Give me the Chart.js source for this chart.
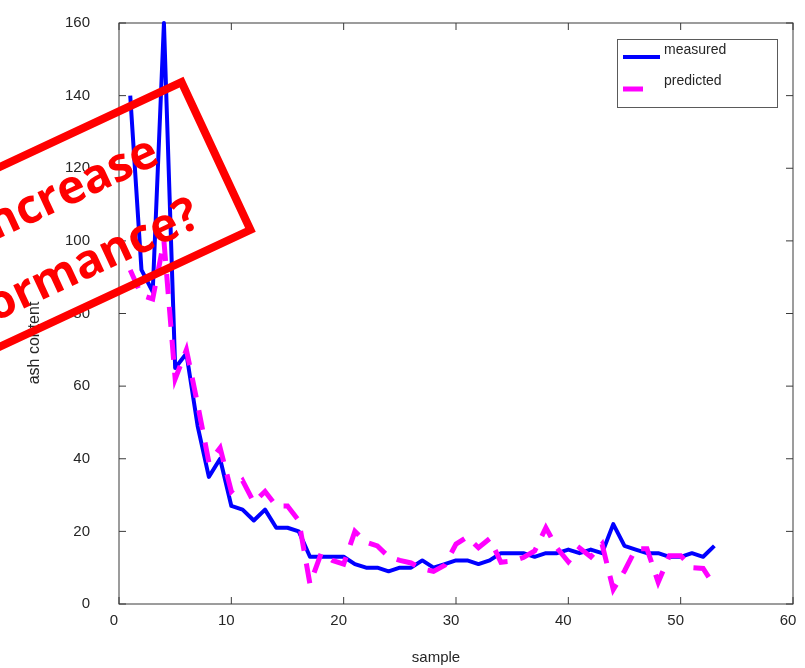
<!DOCTYPE html>
<html>
<head>
<meta charset="utf-8">
<title>ash content</title>
<script src="https://cdn.jsdelivr.net/npm/chart.js@4.4.1/dist/chart.umd.min.js"></script>
<style>
  html, body { margin: 0; padding: 0; background: #fff; }
  #wrap { width: 805px; height: 668px; }
</style>
</head>
<body>
<div id="wrap"><canvas id="ashChart" width="805" height="668"></canvas></div>
<script>
// sample numbers and ash content series
const samples = [];
for (let i = 1; i <= 53; i++) samples.push(i);

const measured = [140, 92, 86, 160, 65, 69, 49, 35, 40, 27,
                  26, 23, 26, 21, 21, 20, 13, 13, 13, 13,
                  11, 10, 10, 9, 10, 10, 12, 10, 11, 12,
                  12, 11, 12, 14, 14, 14, 13, 14, 14, 15,
                  14, 15, 14, 22, 16, 15, 14, 14, 13, 13,
                  14, 13, 16];

const predicted = [92, 85, 84, 100, 62, 70, 55, 39, 43, 31,
                   34, 28, 31, 27, 27, 23, 5.5, 14, 12, 11,
                   20, 17, 16, 13, 12, 11.3, 9.6, 9, 10.7, 16.5,
                   18.5, 15.5, 18, 11.5, 11.8, 12.8, 14.6, 21, 15.4, 11.6,
                   15.4, 13, 16.5, 4, 9.1, 15.2, 15.2, 6, 13.3, 13.3,
                   10, 9.8, 5];

const xTicks = [0, 10, 20, 30, 40, 50, 60];
const yTicks = [0, 20, 40, 60, 80, 100, 120, 140, 160];

const textColor = '#262626';
Chart.defaults.font.family = '"Liberation Sans", Arial, sans-serif';
Chart.defaults.color = textColor;

// boxed axes with inward ticks on all four sides
const axesBox = {
  id: 'axesBox',
  beforeDatasetsDraw(chart) {
    const { ctx, chartArea: a, scales: { x, y } } = chart;
    const t = 7;
    ctx.save();
    ctx.strokeStyle = '#3a3a3a';
    ctx.lineWidth = 1;
    ctx.strokeRect(a.left, a.top, a.right - a.left, a.bottom - a.top);
    ctx.beginPath();
    xTicks.forEach(v => {
      const px = x.getPixelForValue(v);
      ctx.moveTo(px, a.bottom); ctx.lineTo(px, a.bottom - t);
      ctx.moveTo(px, a.top); ctx.lineTo(px, a.top + t);
    });
    yTicks.forEach(v => {
      const py = y.getPixelForValue(v);
      ctx.moveTo(a.left, py); ctx.lineTo(a.left + t, py);
      ctx.moveTo(a.right, py); ctx.lineTo(a.right - t, py);
    });
    ctx.stroke();
    ctx.restore();
  }
};

// axis titles, legend box and the red stamp on top
const overlay = {
  id: 'overlay',
  afterDraw(chart) {
    const { ctx } = chart;
    ctx.save();

    ctx.fillStyle = textColor;
    ctx.font = '15px "Liberation Sans", Arial, sans-serif';
    ctx.textAlign = 'center';
    ctx.textBaseline = 'middle';
    ctx.fillText('sample', 436, 658);
    ctx.save();
    ctx.translate(35, 343);
    ctx.rotate(-Math.PI / 2);
    ctx.font = '16px "Liberation Sans", Arial, sans-serif';
    ctx.fillText('ash content', 0, 0);
    ctx.restore();

    // legend
    ctx.fillStyle = '#fff';
    ctx.fillRect(617.5, 39.5, 160, 68);
    ctx.strokeStyle = '#5a5a5a';
    ctx.lineWidth = 1;
    ctx.strokeRect(617.5, 39.5, 160, 68);
    ctx.font = '14px "Liberation Sans", Arial, sans-serif';
    ctx.textAlign = 'left';
    chart.data.datasets.forEach((ds, i) => {
      const ly = 57 + 32 * i;
      const len = ds.borderDash ? ds.borderDash[0] : 37;
      ctx.beginPath();
      ctx.strokeStyle = ds.borderColor;
      ctx.lineWidth = ds.borderWidth;
      ctx.moveTo(623, ly);
      ctx.lineTo(623 + len, ly);
      ctx.stroke();
      ctx.fillStyle = textColor;
      ctx.fillText(ds.label, 664, 50 + 31.5 * i);
    });

    // stamp
    ctx.translate(216, 156);
    ctx.rotate(-25 * Math.PI / 180);
    ctx.strokeStyle = '#ff0000';
    ctx.lineWidth = 8;
    ctx.strokeRect(-560, -81.5, 560, 163);
    ctx.fillStyle = '#ff0000';
    ctx.font = 'bold 47px "Open Sans", "Noto Sans", sans-serif';
    ctx.textAlign = 'right';
    ctx.textBaseline = 'alphabetic';
    ctx.fillText('Increase', -52, -17);
    ctx.fillText('performance?', -41, 57);

    ctx.restore();
  }
};

new Chart(document.getElementById('ashChart'), {
  type: 'line',
  data: {
    datasets: [
      {
        label: 'measured',
        data: samples.map((s, i) => ({ x: s, y: measured[i] })),
        borderColor: '#0000ff',
        borderWidth: 4,
        borderJoinStyle: 'round',
        pointRadius: 0,
        tension: 0,
        clip: false,
        order: 1
      },
      {
        label: 'predicted',
        data: samples.map((s, i) => ({ x: s, y: predicted[i] })),
        borderColor: '#ff00ff',
        borderWidth: 5,
        borderDash: [20, 13],
        pointRadius: 0,
        tension: 0,
        clip: false,
        order: 0
      }
    ]
  },
  options: {
    responsive: false,
    animation: false,
    layout: { padding: { top: 23, right: 12, left: 0, bottom: 0 } },
    plugins: { legend: { display: false }, tooltip: { enabled: false } },
    scales: {
      x: {
        type: 'linear',
        min: 0,
        max: 60,
        afterBuildTicks: s => { s.ticks = xTicks.map(v => ({ value: v })); },
        afterFit: s => { s.height = 64; s.paddingLeft = 0; s.paddingRight = 0; },
        grid: { display: false, drawTicks: false },
        border: { display: false },
        ticks: { padding: 8, labelOffset: -5, maxRotation: 0, color: textColor, font: { size: 15 } }
      },
      y: {
        type: 'linear',
        min: 0,
        max: 160,
        afterBuildTicks: s => { s.ticks = yTicks.map(v => ({ value: v })); },
        afterFit: s => { s.width = 119; s.paddingTop = 0; s.paddingBottom = 0; },
        grid: { display: false, drawTicks: false },
        border: { display: false },
        ticks: { padding: 29, color: textColor, font: { size: 15 } }
      }
    }
  },
  plugins: [axesBox, overlay]
});
</script>
</body>
</html>
